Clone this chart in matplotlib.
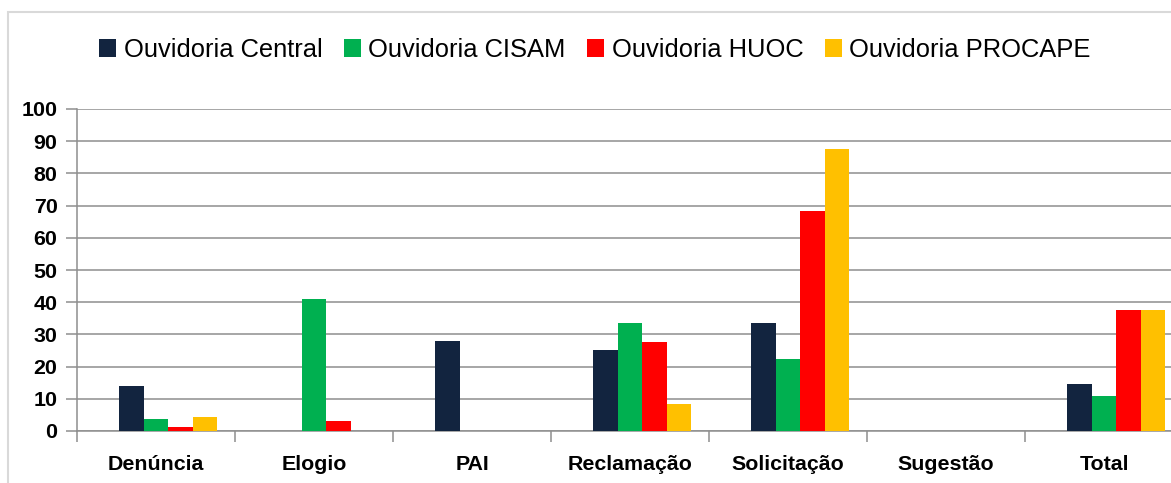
import matplotlib.pyplot as plt
import numpy as np
from matplotlib.patches import Rectangle

plt.rcParams['font.family'] = ['Liberation Sans', 'DejaVu Sans']

categories = ["Denúncia", "Elogio", "PAI", "Reclamação", "Solicitação", "Sugestão", "Total"]
series_names = ["Ouvidoria Central", "Ouvidoria CISAM", "Ouvidoria HUOC", "Ouvidoria PROCAPE"]
central = [14.0, 0, 28.0, 25.1, 33.5, 0, 14.5]
cisam = [3.6, 41.0, 0, 33.5, 22.3, 0, 10.8]
huoc = [1.2, 3.0, 0, 27.6, 68.3, 0, 37.5]
procape = [4.3, 0, 0, 8.3, 87.6, 0, 37.5]
colors = ["#12243f", "#00b050", "#ff0000", "#ffc000"]

W, H = 1171, 483
fig = plt.figure(figsize=(W / 100, H / 100), dpi=100)

# light frame around the chart area
fig.patches.append(Rectangle((8 / W, -0.1), 1.2, 1 - 12 / H + 0.1, transform=fig.transFigure,
                             fill=False, edgecolor="#d9d9d9", linewidth=1.5))

ax = fig.add_axes([77 / W, 52 / H, 1106 / W, 322 / H])

x = np.arange(len(categories)) + 0.5
bw = 0.155
offsets = [-0.156, 0.0, 0.155, 0.31]
for vals, name, col, off in zip([central, cisam, huoc, procape], series_names, colors, offsets):
    ax.bar(x + off, vals, width=bw, color=col, label=name, zorder=3)

ax.set_xlim(0, len(categories))
ax.set_ylim(0, 100)
ax.set_yticks(np.arange(0, 101, 10))
ax.yaxis.grid(True, color="#8e8e8e", linewidth=1.1, zorder=0)
ax.set_axisbelow(True)

ax.set_xticks(x)
ax.set_xticklabels(categories, fontsize=15.4, fontweight="bold")
ax.set_xticks(np.arange(0, len(categories) + 1), minor=True)
ax.tick_params(axis="x", which="major", length=0, pad=17)
ax.tick_params(axis="x", which="minor", length=8, width=1.1, color="#8e8e8e")
ax.tick_params(axis="y", length=8, width=1.1, color="#8e8e8e", pad=6, labelsize=15.4)
for lab in ax.get_yticklabels():
    lab.set_fontweight("bold")

for s in ["top", "right"]:
    ax.spines[s].set_visible(False)
for s in ["left", "bottom"]:
    ax.spines[s].set_color("#8e8e8e")
    ax.spines[s].set_linewidth(1.1)

fig.legend(loc="center", bbox_to_anchor=(595 / W, 1 - 50 / H), ncol=4, frameon=False,
           fontsize=18.4, handlelength=0.65, handleheight=0.65, handletextpad=0.3,
           columnspacing=0.85)

fig.savefig("out.png", dpi=100)
